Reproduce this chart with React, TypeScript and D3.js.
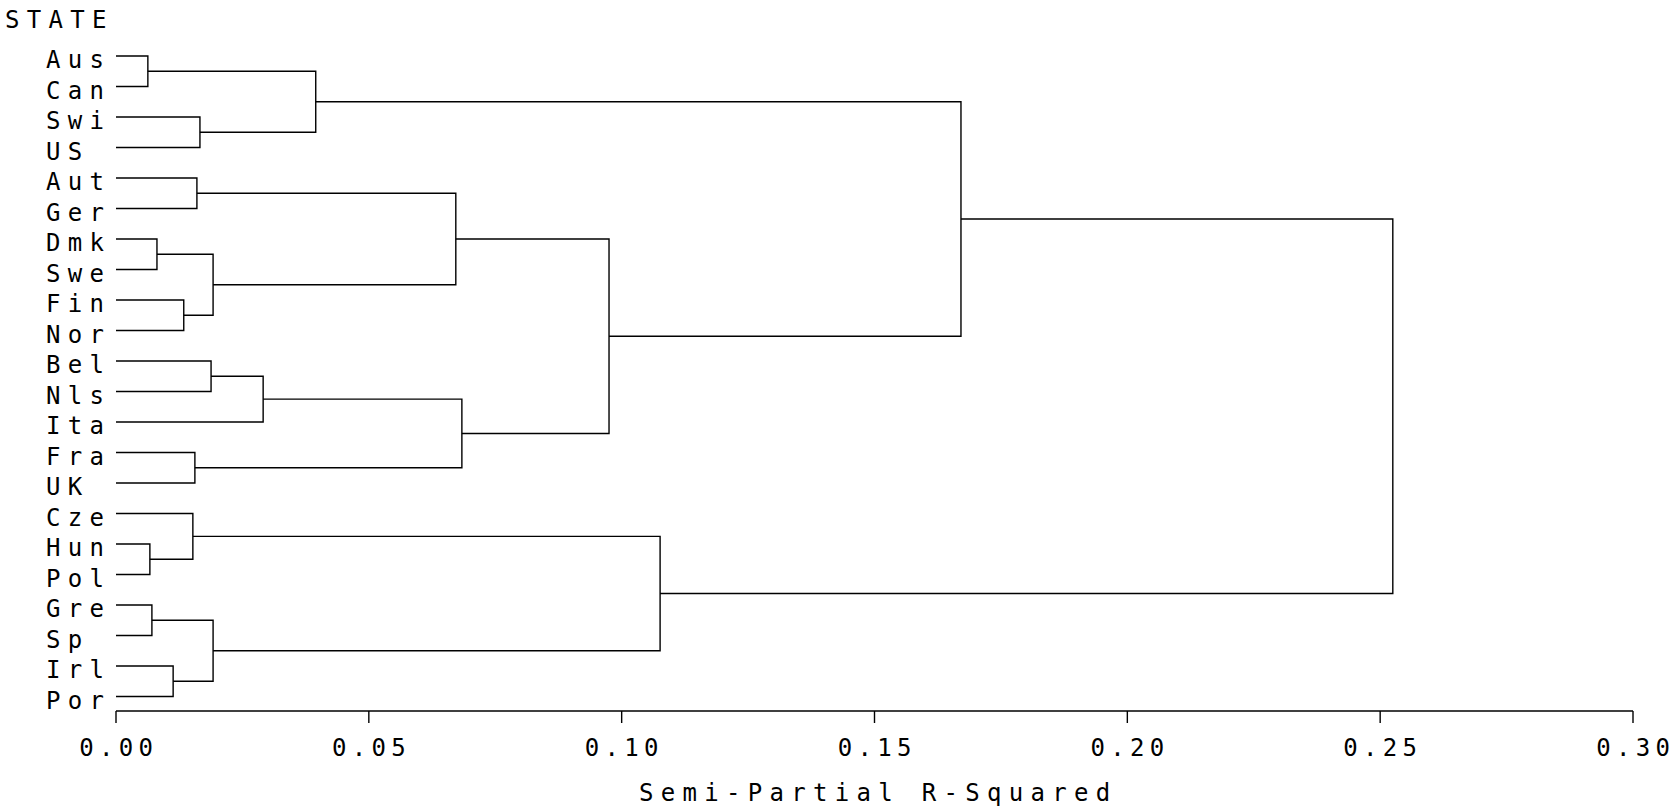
import React, { useEffect } from "react";
import * as d3 from "d3";

const leaves = [
  "Aus", "Can", "Swi", "US", "Aut", "Ger", "Dmk", "Swe", "Fin", "Nor", "Bel",
  "Nls", "Ita", "Fra", "UK", "Cze", "Hun", "Pol", "Gre", "Sp", "Irl", "Por",
];

// cluster history: join i creates cluster `CL${21 - i}`
const joinLeft = [
  "Aus", "Hun", "Gre", "Dmk", "Irl", "Fin", "Cze", "Fra", "Aut", "Swi", "Bel",
  "CL18", "CL19", "CL11", "CL21", "CL13", "CL8", "CL6", "CL15", "CL7", "CL2",
];
const joinRight = [
  "Can", "Pol", "Sp", "Swe", "Por", "Nor", "CL20", "UK", "Ger", "US", "Nls",
  "CL16", "CL17", "Ita", "CL12", "CL10", "CL14", "CL5", "CL9", "CL4", "CL3",
];
const joinHeight = [
  0.0063, 0.0067, 0.0071, 0.0081, 0.0113, 0.0134, 0.0152, 0.0156, 0.016,
  0.0166, 0.0188, 0.0192, 0.0192, 0.0291, 0.0395, 0.0672, 0.0684, 0.0975,
  0.1076, 0.1671, 0.2525,
];

const xTicks = [0, 0.05, 0.1, 0.15, 0.2, 0.25, 0.3];
const axisTitle = "Semi-Partial R-Squared";
const yTitle = "STATE";

const W = 1671;
const H = 810;
const FONT = "'DejaVu Sans Mono', monospace";
const FS = 24;
const LS = 7.3;
const LS_TICK = 5.3;

export default function App() {
  useEffect(() => {
    document.body.style.margin = "0";
  }, []);

  const x = d3.scaleLinear().domain([0, 0.3]).range([116, 1633]);
  const y = d3.scalePoint<string>().domain(leaves).range([56, 56 + 21 * 30.5]);
  const axisY = 711;

  const pos: Record<string, { x: number; y: number }> = {};
  leaves.forEach((l) => (pos[l] = { x: x(0), y: y(l) as number }));

  const paths: string[] = [];
  joinHeight.forEach((h, i) => {
    const a = pos[joinLeft[i]];
    const b = pos[joinRight[i]];
    const xh = x(h);
    const p = d3.path();
    p.moveTo(a.x, a.y);
    p.lineTo(xh, a.y);
    p.lineTo(xh, b.y);
    p.lineTo(b.x, b.y);
    paths.push(p.toString());
    pos[`CL${21 - i}`] = { x: xh, y: (a.y + b.y) / 2 };
  });

  const fmt = d3.format(".2f");

  return (
    <svg
      width={W}
      height={H}
      style={{ display: "block", background: "#fff" }}
      fontFamily={FONT}
      fontSize={FS}
    >
      <g fill="#000">
        <text x={5} y={28} letterSpacing={LS}>
          {yTitle}
        </text>
        {leaves.map((l) => (
          <text key={l} x={46} y={(y(l) as number) + 12} letterSpacing={LS}>
            {l}
          </text>
        ))}
        {xTicks.map((t) => (
          <text
            key={t}
            x={x(t) + LS_TICK / 2}
            y={756}
            textAnchor="middle"
            letterSpacing={LS_TICK}
          >
            {fmt(t)}
          </text>
        ))}
        <text
          x={(x(0) + x(0.3)) / 2 + LS / 2}
          y={801}
          textAnchor="middle"
          letterSpacing={LS}
        >
          {axisTitle}
        </text>
      </g>
      <g fill="none" stroke="#000" strokeWidth={1.4}>
        {paths.map((d, i) => (
          <path key={i} d={d} />
        ))}
      </g>
      <g stroke="#000" strokeWidth={1.4}>
        <line x1={x(0)} x2={x(0.3)} y1={axisY} y2={axisY} />
        {xTicks.map((t) => (
          <line key={t} x1={x(t)} x2={x(t)} y1={axisY} y2={axisY + 12} />
        ))}
      </g>
    </svg>
  );
}
